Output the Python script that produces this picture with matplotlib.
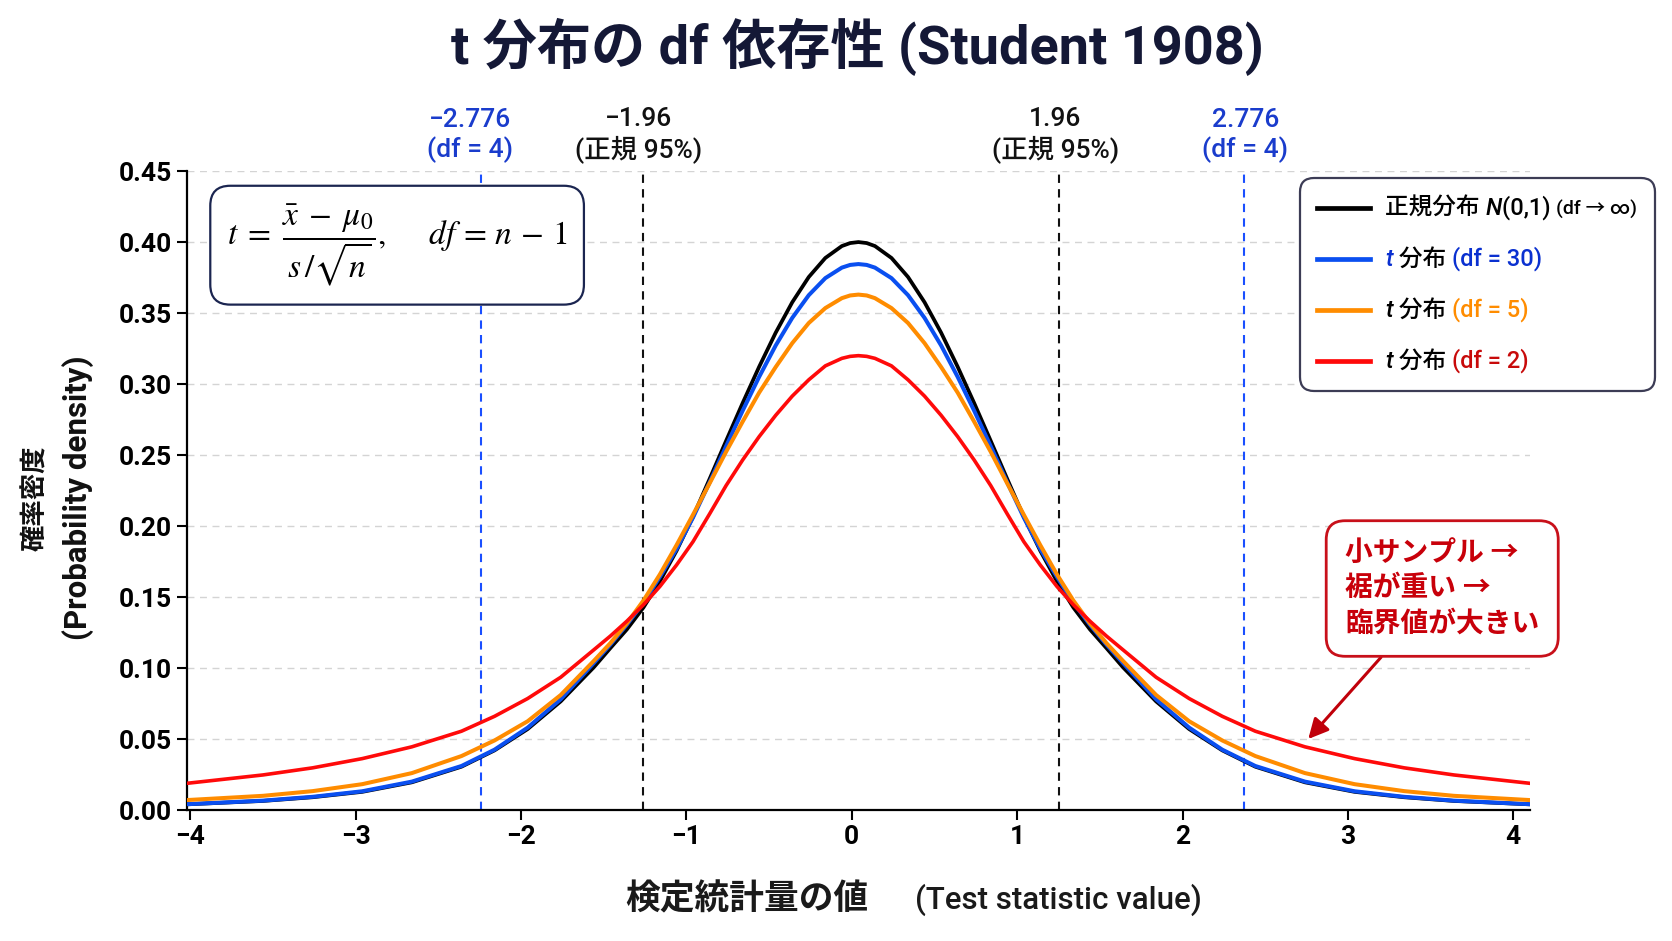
import matplotlib
matplotlib.use("Agg")
import matplotlib.pyplot as plt
from matplotlib.lines import Line2D
from matplotlib.offsetbox import AnnotationBbox, HPacker, VPacker, TextArea, DrawingArea
from matplotlib.transforms import blended_transform_factory

plt.rcParams['font.family'] = ['Roboto', 'Noto Sans CJK JP', 'DejaVu Sans']
plt.rcParams['mathtext.fontset'] = 'stix'

# values
x = [-4.02, -3.56, -3.26, -2.96, -2.66, -2.36, -2.16, -1.96, -1.76,
     -1.56, -1.46, -1.36, -1.26, -1.16, -1.06, -0.96, -0.86, -0.76, -0.66,
     -0.56, -0.46, -0.36, -0.26, -0.16, -0.06, -0.01,
     0.04,
     0.09, 0.14, 0.24, 0.34, 0.44, 0.54, 0.64, 0.74, 0.84, 0.94, 1.04,
     1.14, 1.24, 1.34, 1.44, 1.54, 1.64, 1.84, 2.04, 2.24, 2.44,
     2.74, 3.04, 3.34, 3.64, 4.10]

pdf_normal = [0.0040, 0.0064, 0.0090, 0.0128, 0.0195, 0.0305, 0.042, 0.057, 0.0765,
              0.1005, 0.114, 0.1272, 0.1426, 0.1612, 0.1825, 0.2066, 0.2331, 0.260, 0.2866,
              0.3122, 0.3362, 0.3576, 0.3754, 0.3888, 0.3972, 0.3993,
              0.400,
              0.3993, 0.3972, 0.3888, 0.3754, 0.3576, 0.3362, 0.3122, 0.2866, 0.260, 0.2331, 0.2066,
              0.1825, 0.1612, 0.1426, 0.1272, 0.114, 0.1005, 0.0765, 0.057, 0.042, 0.0305,
              0.0195, 0.0128, 0.0090, 0.0064, 0.0040]

pdf_df30 = [0.0041, 0.0066, 0.0093, 0.0132, 0.020, 0.031, 0.0425, 0.058, 0.078,
            0.1035, 0.1165, 0.1305, 0.146, 0.1643, 0.1837, 0.2060, 0.2307, 0.2562, 0.2812,
            0.3051, 0.3272, 0.3466, 0.3626, 0.3746, 0.3820, 0.3839,
            0.3845,
            0.3839, 0.3820, 0.3746, 0.3626, 0.3466, 0.3272, 0.3051, 0.2812, 0.2562, 0.2307, 0.2060,
            0.1837, 0.1643, 0.146, 0.1305, 0.1165, 0.1035, 0.078, 0.058, 0.0425, 0.031,
            0.020, 0.0132, 0.0093, 0.0066, 0.0041]

pdf_df5 = [0.0070, 0.0100, 0.0133, 0.0182, 0.026, 0.038, 0.049, 0.0625, 0.081,
           0.105, 0.1175, 0.1315, 0.1475, 0.166, 0.1865, 0.208, 0.230, 0.2523, 0.2735,
           0.294, 0.312, 0.3288, 0.343, 0.3535, 0.3605, 0.3624,
           0.363,
           0.3624, 0.3605, 0.3535, 0.343, 0.3288, 0.312, 0.294, 0.2735, 0.2523, 0.230, 0.208,
           0.1865, 0.166, 0.1475, 0.1315, 0.1175, 0.105, 0.081, 0.0625, 0.049, 0.038,
           0.026, 0.0182, 0.0133, 0.0100, 0.0070]

pdf_df2 = [0.0188, 0.0247, 0.0297, 0.0362, 0.0445, 0.0555, 0.066, 0.0785, 0.0935,
           0.1128, 0.1225, 0.1330, 0.1445, 0.1575, 0.1725, 0.1890, 0.2085, 0.2285, 0.2465,
           0.263, 0.278, 0.2915, 0.303, 0.3128, 0.3181, 0.3195,
           0.320,
           0.3195, 0.3181, 0.3128, 0.303, 0.2915, 0.278, 0.263, 0.2465, 0.2285, 0.2085, 0.1890,
           0.1725, 0.1575, 0.1445, 0.1330, 0.1225, 0.1128, 0.0935, 0.0785, 0.066, 0.0555,
           0.0445, 0.0362, 0.0297, 0.0247, 0.0188]

# critical value markers: where the dashed line sits, where its label sits, label text
crit_pos = [-2.24, -1.26, 1.25, 2.37]
crit_label_pos = [-2.31, -1.29, 1.23, 2.38]
crit_values = ['\u22122.776', '\u22121.96', '1.96', '2.776']
crit_notes = ['(df = 4)', '(正規 95%)', '(正規 95%)', '(df = 4)']

C_BLACK = '#000000'
C_BLUE = '#0a4ff0'
C_ORANGE = '#ff8c00'
C_RED = '#ff0a0a'
C_LBLUE = '#1a3ccc'

fig = plt.figure(figsize=(16.72, 9.41), dpi=100)
ax = fig.add_axes([0.1118, 0.1392, 0.8032, 0.679])

ax.plot(x, pdf_normal, color=C_BLACK, lw=2.7, zorder=3, solid_joinstyle='round')
ax.plot(x, pdf_df30, color=C_BLUE, lw=2.9, zorder=4, solid_joinstyle='round')
ax.plot(x, pdf_df5, color=C_ORANGE, lw=2.9, zorder=5, solid_joinstyle='round')
ax.plot(x, pdf_df2, color=C_RED, lw=2.6, zorder=6, solid_joinstyle='round')

trans = blended_transform_factory(ax.transData, ax.transAxes)
for pos, lpos, val, note in zip(crit_pos, crit_label_pos, crit_values, crit_notes):
    is_df = 'df' in note
    col = '#1a4fff' if is_df else '#111111'
    ax.axvline(pos, color=col, lw=1.5, ls=(0, (4, 3)), zorder=2)
    ax.text(lpos, 1.012, f'{val}\n{note}', transform=trans, ha='center', va='bottom',
            fontsize=19, fontweight='medium', color=C_LBLUE if is_df else '#111111',
            linespacing=1.22)

ax.set_xlim(-4.02, 4.1)
ax.set_ylim(0, 0.45)
ax.set_xticks([-4, -3, -2, -1, 0, 1, 2, 3, 4])
ax.set_yticks([0, 0.05, 0.10, 0.15, 0.20, 0.25, 0.30, 0.35, 0.40, 0.45])
ax.set_yticklabels([f'{v:.2f}' for v in ax.get_yticks()])
ax.tick_params(labelsize=19, width=1.5, length=7)
for lab in ax.get_xticklabels() + ax.get_yticklabels():
    lab.set_fontweight('bold')
for s in ['top', 'right']:
    ax.spines[s].set_visible(False)
for s in ['left', 'bottom']:
    ax.spines[s].set_linewidth(1.6)
ax.yaxis.grid(True, ls=(0, (5, 4)), color='#d4d4d4', lw=1)
ax.set_axisbelow(True)

# y label: two lines of different size
fig.text(0.0215, 0.471, '確率密度', rotation=90, ha='center', va='center',
         fontsize=19, fontweight='bold', color='#111111')
fig.text(0.0465, 0.471, '(Probability density)', rotation=90, ha='center', va='center',
         fontsize=22.5, fontweight='bold', color='#111111')

fig.text(0.5197, 0.034, '検定統計量の値', ha='right', va='baseline',
         fontsize=25, fontweight='bold', color='#1a1a1a')
fig.text(0.547, 0.034, '(Test statistic value)', ha='left', va='baseline',
         fontsize=22.5, fontweight='medium', color='#1a1a1a')

fig.text(0.513, 0.950, 't 分布の df 依存性 (Student 1908)', ha='center', va='center',
         fontsize=39, fontweight='bold', color='#141836')

# formula box
ax.text(0.1565, 0.884,
        r'$t\; =\; \dfrac{\bar{x}\; -\; \mu_0}{s\,/\sqrt{n}},\quad\;\; df\, =\, n\, -\, 1$',
        transform=ax.transAxes, ha='center', va='center', fontsize=24,
        bbox=dict(boxstyle='round,pad=0.5,rounding_size=0.6', fc='white', ec='#1b2550', lw=1.6),
        zorder=10)

# legend with coloured label parts
legend_rows = [
    (C_BLACK, [('正規分布 ', 17, 'black', 'normal'), ('N', 17, 'black', 'italic'),
               ('(0,1) ', 17, 'black', 'normal'), ('(df \u2192 \u221e)', 14, 'black', 'normal')]),
    (C_BLUE, [('t', 17, '#0a30d0', 'italic'), (' 分布 ', 17, 'black', 'normal'),
              ('(df = 30)', 17, '#0a30d0', 'normal')]),
    (C_ORANGE, [('t', 17, 'black', 'italic'), (' 分布 ', 17, 'black', 'normal'),
                ('(df = 5)', 17, C_ORANGE, 'normal')]),
    (C_RED, [('t', 17, 'black', 'italic'), (' 分布 ', 17, 'black', 'normal'),
             ('(df = 2)', 17, '#c80a0a', 'normal')]),
]
rows = []
for col, parts in legend_rows:
    da = DrawingArea(38, 14, 0, 0)
    da.add_artist(Line2D([0, 38], [7, 7], color=col, lw=3.4))
    pieces = [TextArea(t, textprops=dict(fontsize=fs, color=c, style=st, fontweight='medium'))
              for t, fs, c, st in parts]
    txt = HPacker(children=pieces, align='baseline', pad=0, sep=0)
    rows.append(HPacker(children=[da, txt], align='center', pad=0, sep=11))
vbox = VPacker(children=rows, align='left', pad=0, sep=19)
ab = AnnotationBbox(vbox, (1.080, 0.962), xycoords='axes fraction', box_alignment=(1, 1),
                    frameon=True, annotation_clip=False, zorder=10,
                    bboxprops=dict(boxstyle='round,pad=1.25,rounding_size=1.0',
                                   fc='white', ec='#3c3c55', lw=1.6))
ax.add_artist(ab)

# annotation
ax.annotate('小サンプル \u2192\n裾が重い \u2192\n臨界値が大きい', xy=(2.76, 0.050), xytext=(3.57, 0.156),
            ha='center', va='center', multialignment='left', fontsize=20, fontweight='bold',
            color='#c8000a', linespacing=1.4, annotation_clip=False, zorder=10,
            bbox=dict(boxstyle='round,pad=0.68', fc='white', ec='#c8101a', lw=2),
            arrowprops=dict(arrowstyle='-|>', color='#c0000a', lw=2.2, mutation_scale=30,
                            shrinkA=0, shrinkB=0))

fig.savefig('out.png', dpi=100)
